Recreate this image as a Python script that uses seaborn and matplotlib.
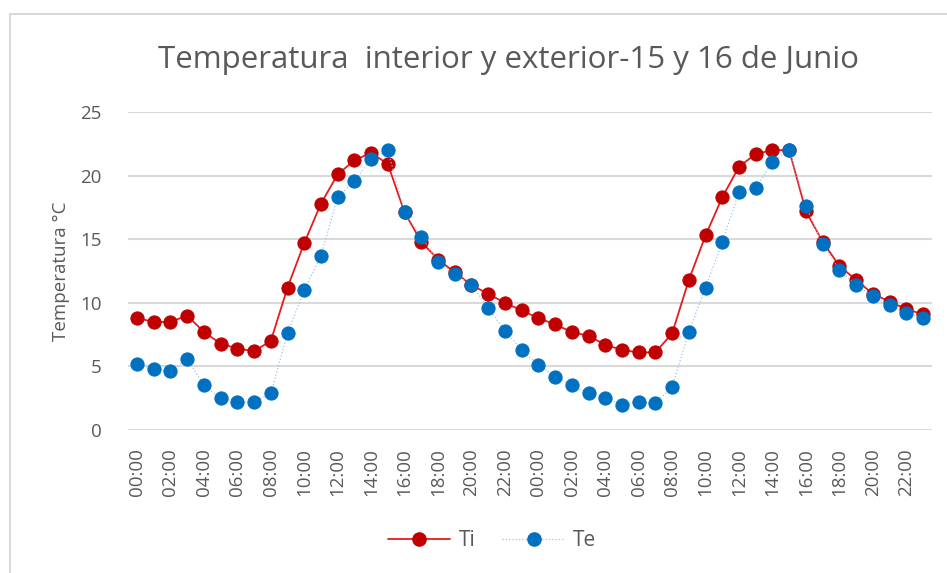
import matplotlib
matplotlib.use("Agg")
import matplotlib.pyplot as plt
from matplotlib.lines import Line2D
import seaborn as sns
import pandas as pd
import numpy as np

hours = [f"{h:02d}:00" for h in range(24)] * 2

ti = [8.8, 8.5, 8.5, 9.0, 7.7, 6.8, 6.4, 6.2, 7.0, 11.2, 14.7, 17.8, 20.1, 21.2, 21.8, 20.9,
      17.1, 14.8, 13.4, 12.4, 11.4, 10.7, 10.0, 9.4, 8.8, 8.3, 7.7, 7.4, 6.7, 6.3, 6.1, 6.1,
      7.6, 11.8, 15.3, 18.3, 20.7, 21.7, 22.0, 22.0, 17.2, 14.8, 12.9, 11.8, 10.7, 10.1, 9.5, 9.1]
te = [5.2, 4.8, 4.6, 5.6, 3.5, 2.5, 2.2, 2.2, 2.9, 7.6, 11.0, 13.7, 18.3, 19.6, 21.3, 22.0,
      17.1, 15.2, 13.2, 12.3, 11.4, 9.6, 7.8, 6.3, 5.1, 4.2, 3.5, 2.9, 2.5, 2.0, 2.2, 2.1,
      3.4, 7.7, 11.2, 14.8, 18.7, 19.0, 21.1, 22.0, 17.6, 14.6, 12.6, 11.4, 10.5, 9.8, 9.2, 8.8]

title = "Temperatura  interior y exterior-15 y 16 de Junio"
ylabel = "Temperatura °C"

df = pd.DataFrame({"pos": np.arange(len(hours)), "hora": hours, "Ti": ti, "Te": te})

sns.set_theme(style="white")
plt.rcParams["font.family"] = ["Open Sans", "DejaVu Sans"]

fig = plt.figure(figsize=(9.47, 5.73), dpi=100)
ax = fig.add_axes([128 / 947, 1 - 430 / 573, (932 - 128) / 947, (430 - 112) / 573])

grid_c = "#D9D9D9"
txt_c = "#595959"

sns.lineplot(data=df, x="pos", y="Ti", ax=ax, color="#E81B1B", linewidth=1.3,
             marker="o", markersize=9.5, markerfacecolor="#C00000", markeredgecolor="#C00000",
             zorder=3)
sns.lineplot(data=df, x="pos", y="Te", ax=ax, color="#9DC3E6", linewidth=0.9, linestyle=":",
             marker="o", markersize=9.5, markerfacecolor="#0070C0", markeredgecolor="#0070C0",
             zorder=4)

ax.set_xlim(-0.54, 47.54)
ax.set_ylim(0, 25)
ax.set_yticks([0, 5, 10, 15, 20, 25])
ax.set_xticks(df["pos"][::2])
ax.set_xticklabels(df["hora"][::2], rotation=90, color=txt_c, fontsize=13.5)
ax.tick_params(axis="y", colors=txt_c, labelsize=13.5, length=0, pad=19)
ax.tick_params(axis="x", length=0, pad=13)
for lbl in ax.get_yticklabels():
    lbl.set_color(txt_c)
ax.yaxis.grid(True, color=grid_c, linewidth=1.5)
ax.set_axisbelow(True)
for s in ax.spines.values():
    s.set_visible(False)
ax.set_xlabel("")
ax.set_ylabel(ylabel, color=txt_c, fontsize=13.5, labelpad=7)

fig.text(508 / 947, 1 - 60 / 573, title, ha="center", va="center", fontsize=22.5,
         color=txt_c)

handles = [
    Line2D([], [], color="#E81B1B", linewidth=1.3, marker="o", markersize=9.5,
           markerfacecolor="#C00000", markeredgecolor="#C00000"),
    Line2D([], [], color="#9DC3E6", linewidth=0.9, linestyle=":", marker="o", markersize=9.5,
           markerfacecolor="#0070C0", markeredgecolor="#0070C0"),
]
fig.legend(handles, ["Ti", "Te"], loc="center", bbox_to_anchor=(492 / 947, 1 - 541 / 573),
           ncol=2, frameon=False, fontsize=15, labelcolor=txt_c, handlelength=3.0,
           columnspacing=1.3, handletextpad=0.4)

# chart frame
fig.add_artist(Line2D([10 / 947, 10 / 947], [0, 1 - 14 / 573], transform=fig.transFigure,
                      color=grid_c, linewidth=1.5))
fig.add_artist(Line2D([10 / 947, 1], [1 - 14 / 573, 1 - 14 / 573], transform=fig.transFigure,
                      color=grid_c, linewidth=1.5))

fig.savefig("out.png", dpi=100, facecolor="white")
